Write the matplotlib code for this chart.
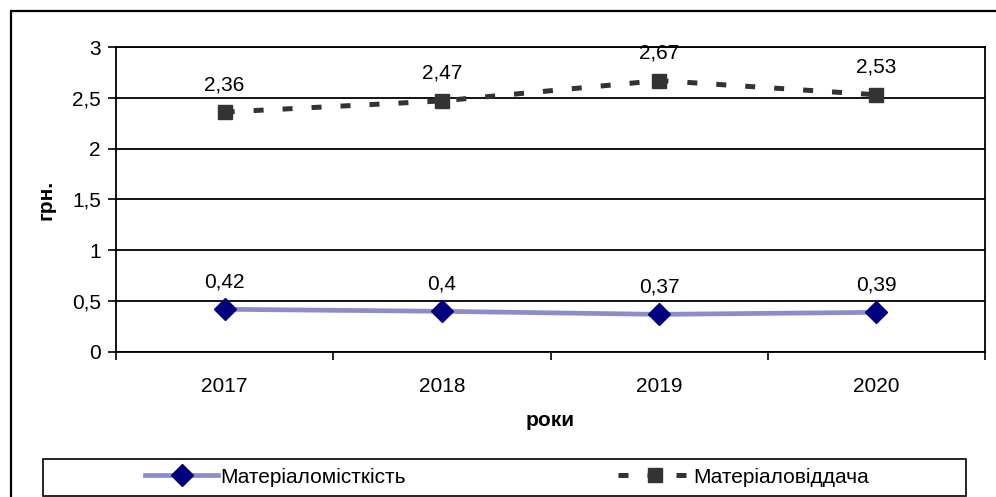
import numpy as np
import matplotlib.pyplot as plt
from matplotlib.patches import Rectangle

# Дані
roky = ['2017', '2018', '2019', '2020']
materialomistkist = [0.42, 0.40, 0.37, 0.39]
materialoviddacha = [2.36, 2.47, 2.67, 2.53]
pidpysy_1 = ['0,42', '0,4', '0,37', '0,39']
pidpysy_2 = ['2,36', '2,47', '2,67', '2,53']
y_ticks = [0, 0.5, 1, 1.5, 2, 2.5, 3]
y_tick_labels = ['0', '0,5', '1', '1,5', '2', '2,5', '3']

plt.rcParams['font.family'] = ['Liberation Sans', 'DejaVu Sans']
fs = 15

fig = plt.figure(figsize=(9.96, 4.97), dpi=100)
ax = fig.add_axes([0.1165, 0.2918, 0.8725, 0.6136])

x = np.arange(len(roky))

# Горизонтальна сітка
for yv in y_ticks:
    ax.axhline(yv, color='black', lw=1.3, zorder=1)

l1, = ax.plot(x, materialomistkist, color='#8c8cc8', lw=3.4,
              marker='D', markersize=11, markerfacecolor='#000080',
              markeredgecolor='#000080', zorder=3, label='Матеріаломісткість')
l2, = ax.plot(x, materialoviddacha, color='#333333', lw=3.6, dashes=(2, 3.8),
              marker='s', markersize=9.5, markerfacecolor='#333333',
              markeredgecolor='#333333', zorder=3, label='Матеріаловіддача')

for xi, yi, t in zip(x, materialomistkist, pidpysy_1):
    ax.annotate(t, (xi, yi), xytext=(0, 18), textcoords='offset pixels',
                ha='center', va='bottom', fontsize=fs)
for xi, yi, t in zip(x, materialoviddacha, pidpysy_2):
    ax.annotate(t, (xi, yi), xytext=(0, 18), textcoords='offset pixels',
                ha='center', va='bottom', fontsize=fs)

ax.set_xlim(-0.5, 3.5)
ax.set_ylim(0, 3)
ax.set_yticks(y_ticks)
ax.set_yticklabels(y_tick_labels, fontsize=fs)
ax.set_xticks(np.arange(-0.5, 4.0, 1.0))
ax.set_xticklabels([])
ax.set_xticks(x, minor=True)
ax.set_xticklabels(roky, minor=True, fontsize=fs)
ax.tick_params(axis='y', length=6, width=1.2, direction='out', pad=5)
ax.tick_params(axis='x', which='major', length=6, width=1.2, direction='out')
ax.tick_params(axis='x', which='minor', length=0, pad=18)

for s in ax.spines.values():
    s.set_linewidth(1.3)
    s.set_color('black')

ax.set_ylabel('грн.', fontsize=fs, fontweight='bold', labelpad=12)
ax.set_xlabel('роки', fontsize=fs, fontweight='bold', labelpad=11)

# Зовнішня рамка діаграми
fig.patches.append(Rectangle((11 / 996, -0.1), 1.2, (497 - 11) / 497 + 0.1,
                             transform=fig.transFigure, fill=False,
                             edgecolor='black', lw=1.6))
# Рамка легенди
fig.patches.append(Rectangle((43 / 996, 1 / 497), 923 / 996, 37 / 497,
                             transform=fig.transFigure, fill=False,
                             edgecolor='black', lw=1.2))

fig.legend(handles=[l1, l2], loc='center', bbox_to_anchor=(507 / 996, 20 / 497),
           ncol=2, frameon=False, fontsize=fs, handlelength=3.5,
           handletextpad=0.1, columnspacing=10.2, numpoints=1)

fig.savefig('out.png', dpi=100)
